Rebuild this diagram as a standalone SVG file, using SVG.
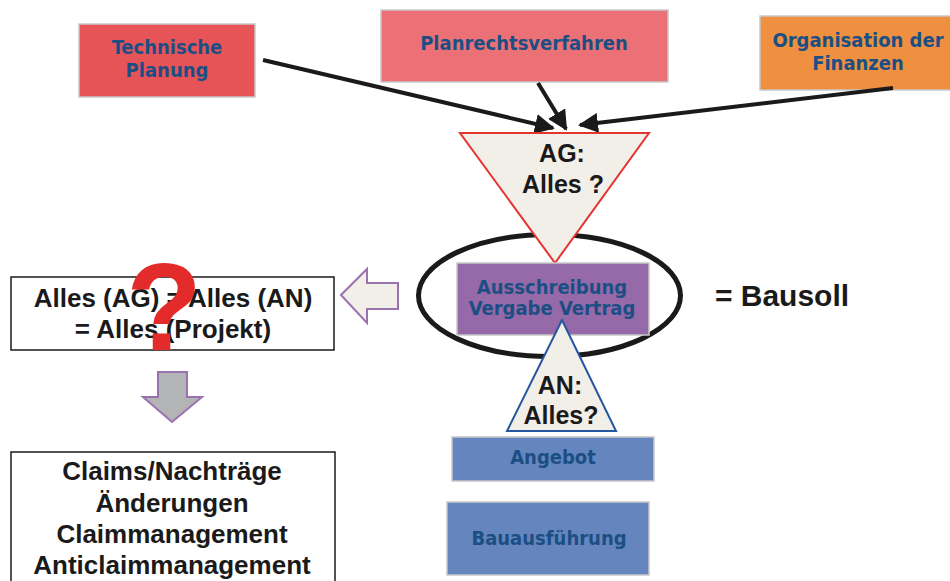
<svg xmlns="http://www.w3.org/2000/svg" width="950" height="581" viewBox="0 0 950 581">
<defs>
<style>
.bt{font-family:"DejaVu Sans Condensed","DejaVu Sans",sans-serif;font-stretch:condensed;font-weight:bold;font-size:20px;fill:#1b4f84;text-anchor:middle}
.at{font-family:"Liberation Sans",Arial,sans-serif;font-weight:bold;fill:#1a1a1a;text-anchor:middle}
.box{stroke:#c8c8c8;stroke-width:1.5}
.conn{stroke:#1a1a1a;stroke-width:4;fill:none}
</style>
<marker id="ah" viewBox="0 0 10 10" refX="9" refY="5" markerWidth="5" markerHeight="5" orient="auto" markerUnits="strokeWidth">
<path d="M0,0 L10,5 L0,10 z" fill="#1a1a1a"/>
</marker>
</defs>
<rect width="950" height="581" fill="#ffffff"/>

<g id="tech">
<rect class="box" x="79" y="24" width="176" height="73" fill="#e65458"/>
<text class="bt" x="167" y="54">Technische</text>
<text class="bt" x="167" y="77">Planung</text>
</g>
<g id="plan">
<rect class="box" x="381" y="10" width="287" height="72" fill="#ec7176"/>
<text class="bt" x="524" y="50">Planrechtsverfahren</text>
</g>
<g id="fin">
<rect class="box" x="760" y="16" width="200" height="74" fill="#ef8f40"/>
<text class="bt" x="858" y="47">Organisation der</text>
<text class="bt" x="858" y="70">Finanzen</text>
</g>

<g id="connectors">
<line class="conn" x1="263" y1="60" x2="553" y2="128" marker-end="url(#ah)"/>
<line class="conn" x1="538" y1="83" x2="566" y2="129" marker-end="url(#ah)"/>
<line class="conn" x1="893" y1="88" x2="580" y2="125" marker-end="url(#ah)"/>
</g>

<g id="ellipse">
<ellipse cx="549.5" cy="295.5" rx="131" ry="61" fill="none" stroke="#1a1a1a" stroke-width="5"/>
</g>

<g id="ag">
<polygon points="460,133 649,133 555,263" fill="#f2efe8" stroke="#e53330" stroke-width="2"/>
<text class="at" x="562" y="162" font-size="25">AG:</text>
<text class="at" x="563" y="193" font-size="25">Alles ?</text>
</g>

<g id="vertrag">
<rect class="box" x="457" y="263" width="192" height="72" fill="#9669a8"/>
<text class="bt" x="552" y="294">Ausschreibung</text>
<text class="bt" x="552" y="315">Vergabe Vertrag</text>
</g>

<g id="an">
<polygon points="562,320 616,431 507,431" fill="#f2efe8" stroke="#2556a0" stroke-width="2"/>
<text class="at" x="560" y="394" font-size="25">AN:</text>
<text class="at" x="561" y="424" font-size="25">Alles?</text>
</g>

<g id="angebot">
<rect class="box" x="452" y="437" width="202" height="44" fill="#6585be"/>
<text class="bt" x="553" y="464">Angebot</text>
</g>
<g id="bau">
<rect class="box" x="447" y="502" width="202" height="73" fill="#6585be"/>
<text class="bt" x="549" y="545">Bauausführung</text>
</g>

<g id="bausoll">
<text class="at" x="782" y="306" font-size="30">= Bausoll</text>
</g>

<g id="leftarrow">
<polygon points="341,295 367,269 367,283 398,283 398,309 367,309 367,323" fill="#f2efe8" stroke="#9b72b0" stroke-width="2"/>
</g>

<g id="alles">
<rect x="11" y="277" width="323" height="73" fill="#ffffff" stroke="#1a1a1a" stroke-width="1.5"/>
<text class="at" x="173" y="307" font-size="26">Alles (AG) = Alles (AN)</text>
<text class="at" x="173" y="338" font-size="26">= Alles (Projekt)</text>
<text x="164" y="350" font-family="Liberation Sans, Arial, sans-serif" font-weight="bold" font-size="124" fill="#e32b2b" text-anchor="middle">?</text>
</g>

<g id="downarrow">
<polygon points="158,372 187,372 187,397 202,397 172,422 143,397 158,397" fill="#b3b4b6" stroke="#9b72b0" stroke-width="2"/>
</g>

<g id="claims">
<rect x="11" y="452" width="324" height="140" fill="#ffffff" stroke="#1a1a1a" stroke-width="1.5"/>
<text class="at" x="172" y="480" font-size="26">Claims/Nachträge</text>
<text class="at" x="172" y="512" font-size="26">Änderungen</text>
<text class="at" x="172" y="543" font-size="26">Claimmanagement</text>
<text class="at" x="172" y="574" font-size="26">Anticlaimmanagement</text>
</g>
</svg>
